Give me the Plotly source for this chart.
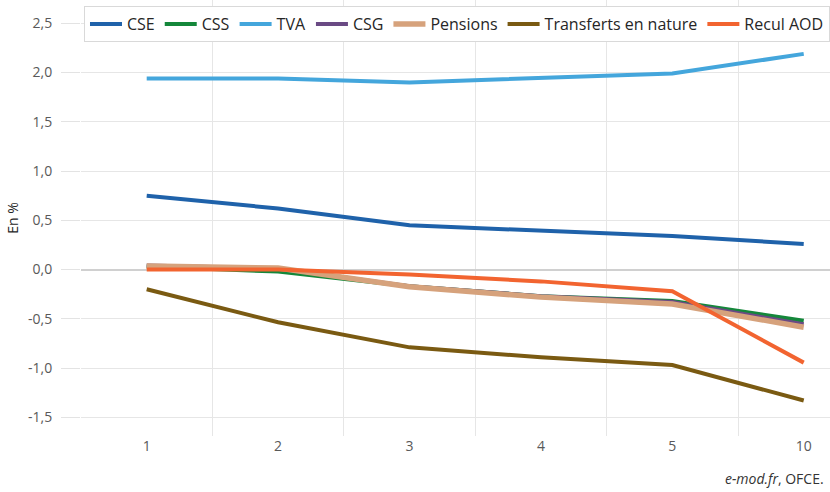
import plotly.graph_objects as go

categories = ["1", "2", "3", "4", "5", "10"]
cse = [0.75, 0.62, 0.45, 0.39, 0.34, 0.26]
css = [0.03, -0.02, -0.17, -0.27, -0.32, -0.52]
tva = [1.94, 1.94, 1.90, 1.94, 1.99, 2.19]
csg = [0.04, 0.01, -0.17, -0.27, -0.33, -0.555]
pensions = [0.035, 0.015, -0.175, -0.28, -0.35, -0.585]
transferts = [-0.20, -0.535, -0.79, -0.89, -0.97, -1.33]
recul_aod = [0.0, 0.0, -0.05, -0.12, -0.22, -0.945]

y_tickvals = [-1.5, -1.0, -0.5, 0.0, 0.5, 1.0, 1.5, 2.0, 2.5]
y_ticktext = ["-1,5", "-1,0", "-0,5", "0,0", "0,5", "1,0", "1,5", "2,0", "2,5"]

series = [
    ("CSE", cse, "#1f62aa", 4),
    ("CSS", css, "#14873a", 4),
    ("TVA", tva, "#44a6dc", 4),
    ("CSG", csg, "#6a4a84", 4),
    ("Pensions", pensions, "#d6a27c", 5.5),
    ("Transferts en nature", transferts, "#7a5a12", 4),
    ("Recul AOD", recul_aod, "#f26430", 4),
]

fig = go.Figure()
for name, vals, color, w in series:
    fig.add_trace(go.Scatter(x=categories, y=vals, name=name, mode="lines",
                             line=dict(color=color, width=w)))

fig.update_layout(
    width=830, height=492,
    margin=dict(l=81, r=0, t=0, b=56, autoexpand=False),
    plot_bgcolor="white", paper_bgcolor="white",
    font=dict(family="Open Sans", size=14, color="#595959"),
    legend=dict(orientation="h", xref="paper", yref="paper",
                x=0.004, y=0.986, xanchor="left", yanchor="top",
                bgcolor="white", bordercolor="#d9d9d9", borderwidth=1,
                font=dict(family="Open Sans", size=16, color="#262626"),
                itemwidth=32, tracegroupgap=0),
    showlegend=True,
    xaxis=dict(type="category", range=[-0.5, 5.2], tickson="boundaries",
               showgrid=True, gridcolor="#e6e6e6", gridwidth=1,
               ticks="", showline=False, zeroline=False,
               tickfont=dict(size=14, color="#595959")),
    yaxis=dict(range=[-1.69, 2.737], tickmode="array",
               tickvals=y_tickvals, ticktext=y_ticktext,
               showgrid=True, gridcolor="#e6e6e6", gridwidth=1,
               zeroline=True, zerolinecolor="#d0d0d0", zerolinewidth=1.5,
               ticks="outside", ticklen=19, tickcolor="#e3e3e3",
               ticklabelstandoff=6,
               tickfont=dict(size=14, color="#595959"),
               title=dict(text="En %", standoff=6,
                          font=dict(size=14, color="#262626"))),
    annotations=[dict(text="<i>e-mod.fr</i>, OFCE.", xref="paper", yref="paper",
                      x=1, y=-0.071, xanchor="right", yanchor="top",
                      showarrow=False, xshift=-4,
                      font=dict(family="Open Sans", size=14, color="#333333"))],
)

fig.write_html("out.html", config={"displayModeBar": False},
               post_script="document.body.style.margin='0';document.body.style.overflow='hidden';")
